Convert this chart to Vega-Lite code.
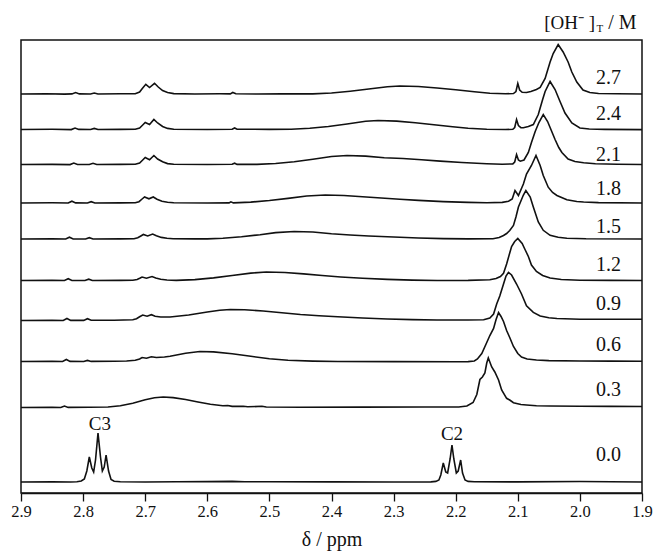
{
  "$schema": "https://vega.github.io/schema/vega-lite/v6.json",
  "width": 621,
  "height": 453,
  "autosize": {"type": "none"},
  "padding": {"left": 21, "top": 40, "right": 13, "bottom": 58},
  "background": "white",
  "config": {
    "view": {"stroke": "#111", "strokeWidth": 1.5},
    "font": "Liberation Serif"
  },
  "datasets": {
    "spectra": [
      {"c":"2.7","ppm":2.900,"v":399},{"c":"2.7","ppm":2.860,"v":399.2},{"c":"2.7","ppm":2.830,"v":398.9},{"c":"2.7","ppm":2.818,"v":399.1},{"c":"2.7","ppm":2.812,"v":400.4},{"c":"2.7","ppm":2.806,"v":399.1},{"c":"2.7","ppm":2.788,"v":399},{"c":"2.7","ppm":2.782,"v":400},{"c":"2.7","ppm":2.776,"v":399},{"c":"2.7","ppm":2.740,"v":399.2},{"c":"2.7","ppm":2.716,"v":399.3},{"c":"2.7","ppm":2.709,"v":401},{"c":"2.7","ppm":2.704,"v":405},{"c":"2.7","ppm":2.699,"v":408.7},{"c":"2.7","ppm":2.693,"v":405.5},{"c":"2.7","ppm":2.685,"v":409.7},{"c":"2.7","ppm":2.679,"v":406},{"c":"2.7","ppm":2.672,"v":402.5},{"c":"2.7","ppm":2.664,"v":400.5},{"c":"2.7","ppm":2.654,"v":399.4},{"c":"2.7","ppm":2.620,"v":399},{"c":"2.7","ppm":2.580,"v":399.2},{"c":"2.7","ppm":2.563,"v":399.1},{"c":"2.7","ppm":2.559,"v":400.5},{"c":"2.7","ppm":2.554,"v":399.2},{"c":"2.7","ppm":2.520,"v":399},{"c":"2.7","ppm":2.480,"v":399.1},{"c":"2.7","ppm":2.430,"v":399.1},{"c":"2.7","ppm":2.400,"v":400},{"c":"2.7","ppm":2.370,"v":401.8},{"c":"2.7","ppm":2.340,"v":404},{"c":"2.7","ppm":2.310,"v":406.2},{"c":"2.7","ppm":2.290,"v":407},{"c":"2.7","ppm":2.260,"v":406.5},{"c":"2.7","ppm":2.230,"v":405},{"c":"2.7","ppm":2.200,"v":403.3},{"c":"2.7","ppm":2.170,"v":401.3},{"c":"2.7","ppm":2.145,"v":399.8},{"c":"2.7","ppm":2.120,"v":399.2},{"c":"2.7","ppm":2.107,"v":399.5},{"c":"2.7","ppm":2.103,"v":401.5},{"c":"2.7","ppm":2.100,"v":409.5},{"c":"2.7","ppm":2.097,"v":403},{"c":"2.7","ppm":2.093,"v":400.7},{"c":"2.7","ppm":2.086,"v":400.5},{"c":"2.7","ppm":2.079,"v":401.5},{"c":"2.7","ppm":2.070,"v":403.5},{"c":"2.7","ppm":2.064,"v":405.5},{"c":"2.7","ppm":2.056,"v":414.5},{"c":"2.7","ppm":2.048,"v":431},{"c":"2.7","ppm":2.043,"v":439.5},{"c":"2.7","ppm":2.035,"v":448.5},{"c":"2.7","ppm":2.027,"v":441},{"c":"2.7","ppm":2.019,"v":431},{"c":"2.7","ppm":2.013,"v":421},{"c":"2.7","ppm":2.005,"v":411},{"c":"2.7","ppm":1.995,"v":403},{"c":"2.7","ppm":1.984,"v":400.5},{"c":"2.7","ppm":1.970,"v":399.5},{"c":"2.7","ppm":1.940,"v":399.2},{"c":"2.7","ppm":1.900,"v":399},

      {"c":"2.4","ppm":2.900,"v":363.5},{"c":"2.4","ppm":2.850,"v":363.7},{"c":"2.4","ppm":2.819,"v":363.4},{"c":"2.4","ppm":2.813,"v":365},{"c":"2.4","ppm":2.807,"v":363.6},{"c":"2.4","ppm":2.788,"v":363.5},{"c":"2.4","ppm":2.782,"v":364.6},{"c":"2.4","ppm":2.776,"v":363.5},{"c":"2.4","ppm":2.740,"v":363.6},{"c":"2.4","ppm":2.716,"v":363.7},{"c":"2.4","ppm":2.709,"v":365},{"c":"2.4","ppm":2.704,"v":368},{"c":"2.4","ppm":2.700,"v":370.5},{"c":"2.4","ppm":2.693,"v":368.5},{"c":"2.4","ppm":2.686,"v":373.5},{"c":"2.4","ppm":2.680,"v":370},{"c":"2.4","ppm":2.672,"v":366.5},{"c":"2.4","ppm":2.664,"v":364.6},{"c":"2.4","ppm":2.654,"v":363.8},{"c":"2.4","ppm":2.600,"v":363.5},{"c":"2.4","ppm":2.560,"v":363.8},{"c":"2.4","ppm":2.556,"v":365},{"c":"2.4","ppm":2.552,"v":363.8},{"c":"2.4","ppm":2.500,"v":363.6},{"c":"2.4","ppm":2.465,"v":363.7},{"c":"2.4","ppm":2.435,"v":364.7},{"c":"2.4","ppm":2.405,"v":366.5},{"c":"2.4","ppm":2.375,"v":369},{"c":"2.4","ppm":2.345,"v":371.7},{"c":"2.4","ppm":2.325,"v":372.5},{"c":"2.4","ppm":2.295,"v":371.9},{"c":"2.4","ppm":2.265,"v":370.3},{"c":"2.4","ppm":2.235,"v":368.3},{"c":"2.4","ppm":2.205,"v":366.2},{"c":"2.4","ppm":2.180,"v":364.7},{"c":"2.4","ppm":2.150,"v":363.8},{"c":"2.4","ppm":2.120,"v":363.5},{"c":"2.4","ppm":2.108,"v":363.7},{"c":"2.4","ppm":2.105,"v":365.5},{"c":"2.4","ppm":2.102,"v":373.5},{"c":"2.4","ppm":2.099,"v":367.5},{"c":"2.4","ppm":2.095,"v":365.3},{"c":"2.4","ppm":2.091,"v":365.2},{"c":"2.4","ppm":2.083,"v":366.5},{"c":"2.4","ppm":2.075,"v":368.5},{"c":"2.4","ppm":2.067,"v":378.5},{"c":"2.4","ppm":2.060,"v":393.5},{"c":"2.4","ppm":2.056,"v":401.5},{"c":"2.4","ppm":2.048,"v":411.5},{"c":"2.4","ppm":2.040,"v":403.5},{"c":"2.4","ppm":2.032,"v":391.5},{"c":"2.4","ppm":2.024,"v":380},{"c":"2.4","ppm":2.013,"v":370},{"c":"2.4","ppm":2.000,"v":365},{"c":"2.4","ppm":1.985,"v":364},{"c":"2.4","ppm":1.960,"v":363.6},{"c":"2.4","ppm":1.900,"v":363.4},

      {"c":"2.1","ppm":2.900,"v":328.5},{"c":"2.1","ppm":2.850,"v":328.6},{"c":"2.1","ppm":2.821,"v":328.4},{"c":"2.1","ppm":2.815,"v":330},{"c":"2.1","ppm":2.809,"v":328.5},{"c":"2.1","ppm":2.790,"v":328.5},{"c":"2.1","ppm":2.784,"v":329.7},{"c":"2.1","ppm":2.778,"v":328.5},{"c":"2.1","ppm":2.740,"v":328.6},{"c":"2.1","ppm":2.716,"v":328.7},{"c":"2.1","ppm":2.709,"v":330},{"c":"2.1","ppm":2.704,"v":333},{"c":"2.1","ppm":2.700,"v":335.5},{"c":"2.1","ppm":2.693,"v":333.2},{"c":"2.1","ppm":2.686,"v":337.5},{"c":"2.1","ppm":2.680,"v":334},{"c":"2.1","ppm":2.672,"v":331.2},{"c":"2.1","ppm":2.664,"v":329.4},{"c":"2.1","ppm":2.654,"v":328.8},{"c":"2.1","ppm":2.600,"v":328.5},{"c":"2.1","ppm":2.560,"v":328.7},{"c":"2.1","ppm":2.556,"v":329.8},{"c":"2.1","ppm":2.552,"v":328.6},{"c":"2.1","ppm":2.520,"v":328.6},{"c":"2.1","ppm":2.490,"v":329.5},{"c":"2.1","ppm":2.460,"v":331.3},{"c":"2.1","ppm":2.430,"v":333.7},{"c":"2.1","ppm":2.400,"v":336.5},{"c":"2.1","ppm":2.375,"v":337.5},{"c":"2.1","ppm":2.345,"v":336.9},{"c":"2.1","ppm":2.315,"v":335.3},{"c":"2.1","ppm":2.285,"v":334.5},{"c":"2.1","ppm":2.255,"v":333.3},{"c":"2.1","ppm":2.225,"v":331.9},{"c":"2.1","ppm":2.190,"v":330.5},{"c":"2.1","ppm":2.150,"v":329.3},{"c":"2.1","ppm":2.125,"v":328.8},{"c":"2.1","ppm":2.108,"v":329.1},{"c":"2.1","ppm":2.105,"v":331},{"c":"2.1","ppm":2.102,"v":338.5},{"c":"2.1","ppm":2.099,"v":333},{"c":"2.1","ppm":2.096,"v":331.8},{"c":"2.1","ppm":2.090,"v":333},{"c":"2.1","ppm":2.083,"v":340.5},{"c":"2.1","ppm":2.078,"v":350.5},{"c":"2.1","ppm":2.072,"v":361.5},{"c":"2.1","ppm":2.066,"v":370.5},{"c":"2.1","ppm":2.059,"v":378.5},{"c":"2.1","ppm":2.052,"v":371.5},{"c":"2.1","ppm":2.046,"v":362.5},{"c":"2.1","ppm":2.040,"v":353.5},{"c":"2.1","ppm":2.034,"v":345.5},{"c":"2.1","ppm":2.029,"v":340.5},{"c":"2.1","ppm":2.019,"v":334},{"c":"2.1","ppm":2.008,"v":331.5},{"c":"2.1","ppm":1.994,"v":330.2},{"c":"2.1","ppm":1.975,"v":329.2},{"c":"2.1","ppm":1.940,"v":328.7},{"c":"2.1","ppm":1.900,"v":328.5},

      {"c":"1.8","ppm":2.900,"v":290},{"c":"1.8","ppm":2.850,"v":290.2},{"c":"1.8","ppm":2.824,"v":290},{"c":"1.8","ppm":2.818,"v":291.8},{"c":"1.8","ppm":2.812,"v":290.1},{"c":"1.8","ppm":2.793,"v":290},{"c":"1.8","ppm":2.787,"v":291.3},{"c":"1.8","ppm":2.781,"v":290},{"c":"1.8","ppm":2.740,"v":290.1},{"c":"1.8","ppm":2.716,"v":290.2},{"c":"1.8","ppm":2.710,"v":291.3},{"c":"1.8","ppm":2.705,"v":294},{"c":"1.8","ppm":2.701,"v":296},{"c":"1.8","ppm":2.694,"v":294.2},{"c":"1.8","ppm":2.687,"v":296},{"c":"1.8","ppm":2.681,"v":293.8},{"c":"1.8","ppm":2.673,"v":291.8},{"c":"1.8","ppm":2.664,"v":290.7},{"c":"1.8","ppm":2.654,"v":290.2},{"c":"1.8","ppm":2.600,"v":290},{"c":"1.8","ppm":2.565,"v":290.1},{"c":"1.8","ppm":2.562,"v":291.2},{"c":"1.8","ppm":2.558,"v":290.1},{"c":"1.8","ppm":2.530,"v":290.9},{"c":"1.8","ppm":2.500,"v":292.5},{"c":"1.8","ppm":2.470,"v":294.6},{"c":"1.8","ppm":2.440,"v":297},{"c":"1.8","ppm":2.410,"v":298},{"c":"1.8","ppm":2.380,"v":297.5},{"c":"1.8","ppm":2.350,"v":296.2},{"c":"1.8","ppm":2.320,"v":295},{"c":"1.8","ppm":2.290,"v":293.8},{"c":"1.8","ppm":2.260,"v":292.6},{"c":"1.8","ppm":2.220,"v":291.4},{"c":"1.8","ppm":2.180,"v":290.6},{"c":"1.8","ppm":2.150,"v":290.3},{"c":"1.8","ppm":2.125,"v":290.6},{"c":"1.8","ppm":2.115,"v":291.8},{"c":"1.8","ppm":2.109,"v":294},{"c":"1.8","ppm":2.1045,"v":302.5},{"c":"1.8","ppm":2.099,"v":297.5},{"c":"1.8","ppm":2.091,"v":309},{"c":"1.8","ppm":2.086,"v":319},{"c":"1.8","ppm":2.078,"v":327.5},{"c":"1.8","ppm":2.0707,"v":337.5},{"c":"1.8","ppm":2.064,"v":327.5},{"c":"1.8","ppm":2.059,"v":317.5},{"c":"1.8","ppm":2.051,"v":305.8},{"c":"1.8","ppm":2.044,"v":300.5},{"c":"1.8","ppm":2.037,"v":297.5},{"c":"1.8","ppm":2.021,"v":293.2},{"c":"1.8","ppm":2.005,"v":291.5},{"c":"1.8","ppm":1.994,"v":291},{"c":"1.8","ppm":1.970,"v":290.4},{"c":"1.8","ppm":1.900,"v":290},

      {"c":"1.5","ppm":2.900,"v":254},{"c":"1.5","ppm":2.850,"v":254.1},{"c":"1.5","ppm":2.828,"v":254},{"c":"1.5","ppm":2.822,"v":255.8},{"c":"1.5","ppm":2.816,"v":254},{"c":"1.5","ppm":2.796,"v":254},{"c":"1.5","ppm":2.790,"v":255.3},{"c":"1.5","ppm":2.784,"v":254},{"c":"1.5","ppm":2.740,"v":254.1},{"c":"1.5","ppm":2.718,"v":254.2},{"c":"1.5","ppm":2.712,"v":255.2},{"c":"1.5","ppm":2.707,"v":257},{"c":"1.5","ppm":2.703,"v":258.5},{"c":"1.5","ppm":2.696,"v":257},{"c":"1.5","ppm":2.688,"v":259},{"c":"1.5","ppm":2.682,"v":257.2},{"c":"1.5","ppm":2.674,"v":255.6},{"c":"1.5","ppm":2.665,"v":254.7},{"c":"1.5","ppm":2.655,"v":254.2},{"c":"1.5","ppm":2.620,"v":254.1},{"c":"1.5","ppm":2.600,"v":254.1},{"c":"1.5","ppm":2.575,"v":254.8},{"c":"1.5","ppm":2.545,"v":256.3},{"c":"1.5","ppm":2.515,"v":258.3},{"c":"1.5","ppm":2.490,"v":260.4},{"c":"1.5","ppm":2.460,"v":261.5},{"c":"1.5","ppm":2.430,"v":261},{"c":"1.5","ppm":2.400,"v":259.2},{"c":"1.5","ppm":2.370,"v":258},{"c":"1.5","ppm":2.340,"v":257},{"c":"1.5","ppm":2.300,"v":256},{"c":"1.5","ppm":2.260,"v":255},{"c":"1.5","ppm":2.220,"v":254.4},{"c":"1.5","ppm":2.180,"v":254.1},{"c":"1.5","ppm":2.140,"v":254.3},{"c":"1.5","ppm":2.130,"v":255.5},{"c":"1.5","ppm":2.123,"v":257.5},{"c":"1.5","ppm":2.118,"v":259.5},{"c":"1.5","ppm":2.113,"v":262.5},{"c":"1.5","ppm":2.107,"v":267.5},{"c":"1.5","ppm":2.103,"v":276},{"c":"1.5","ppm":2.099,"v":286},{"c":"1.5","ppm":2.091,"v":298},{"c":"1.5","ppm":2.087,"v":302.5},{"c":"1.5","ppm":2.080,"v":296},{"c":"1.5","ppm":2.075,"v":286},{"c":"1.5","ppm":2.067,"v":271},{"c":"1.5","ppm":2.059,"v":262.7},{"c":"1.5","ppm":2.048,"v":257.7},{"c":"1.5","ppm":2.035,"v":255.8},{"c":"1.5","ppm":2.021,"v":254.7},{"c":"1.5","ppm":1.990,"v":254.2},{"c":"1.5","ppm":1.900,"v":254},

      {"c":"1.2","ppm":2.900,"v":212.5},{"c":"1.2","ppm":2.850,"v":212.6},{"c":"1.2","ppm":2.830,"v":212.5},{"c":"1.2","ppm":2.824,"v":214.3},{"c":"1.2","ppm":2.818,"v":212.5},{"c":"1.2","ppm":2.797,"v":212.5},{"c":"1.2","ppm":2.791,"v":213.8},{"c":"1.2","ppm":2.785,"v":212.5},{"c":"1.2","ppm":2.740,"v":212.6},{"c":"1.2","ppm":2.720,"v":212.7},{"c":"1.2","ppm":2.713,"v":213.5},{"c":"1.2","ppm":2.708,"v":215},{"c":"1.2","ppm":2.705,"v":216},{"c":"1.2","ppm":2.698,"v":214.8},{"c":"1.2","ppm":2.689,"v":216.5},{"c":"1.2","ppm":2.683,"v":215},{"c":"1.2","ppm":2.675,"v":213.7},{"c":"1.2","ppm":2.665,"v":213},{"c":"1.2","ppm":2.650,"v":212.6},{"c":"1.2","ppm":2.620,"v":213.4},{"c":"1.2","ppm":2.590,"v":215.1},{"c":"1.2","ppm":2.560,"v":217.5},{"c":"1.2","ppm":2.530,"v":219.9},{"c":"1.2","ppm":2.505,"v":221},{"c":"1.2","ppm":2.475,"v":220.5},{"c":"1.2","ppm":2.445,"v":219.1},{"c":"1.2","ppm":2.415,"v":217.5},{"c":"1.2","ppm":2.385,"v":216},{"c":"1.2","ppm":2.350,"v":214.7},{"c":"1.2","ppm":2.310,"v":213.6},{"c":"1.2","ppm":2.270,"v":212.9},{"c":"1.2","ppm":2.230,"v":212.5},{"c":"1.2","ppm":2.180,"v":212.6},{"c":"1.2","ppm":2.145,"v":213.2},{"c":"1.2","ppm":2.135,"v":214.5},{"c":"1.2","ppm":2.128,"v":216.5},{"c":"1.2","ppm":2.123,"v":219.7},{"c":"1.2","ppm":2.118,"v":229},{"c":"1.2","ppm":2.113,"v":240},{"c":"1.2","ppm":2.110,"v":246.5},{"c":"1.2","ppm":2.105,"v":251.5},{"c":"1.2","ppm":2.100,"v":254.5},{"c":"1.2","ppm":2.093,"v":249.5},{"c":"1.2","ppm":2.088,"v":243},{"c":"1.2","ppm":2.083,"v":236.5},{"c":"1.2","ppm":2.078,"v":228},{"c":"1.2","ppm":2.070,"v":221.5},{"c":"1.2","ppm":2.060,"v":217.5},{"c":"1.2","ppm":2.048,"v":215},{"c":"1.2","ppm":2.030,"v":213.5},{"c":"1.2","ppm":2.000,"v":212.8},{"c":"1.2","ppm":1.950,"v":212.6},{"c":"1.2","ppm":1.900,"v":212.5},

      {"c":"0.9","ppm":2.900,"v":172.5},{"c":"0.9","ppm":2.850,"v":172.6},{"c":"0.9","ppm":2.832,"v":172.5},{"c":"0.9","ppm":2.826,"v":174.5},{"c":"0.9","ppm":2.820,"v":172.6},{"c":"0.9","ppm":2.799,"v":172.6},{"c":"0.9","ppm":2.793,"v":174.3},{"c":"0.9","ppm":2.787,"v":172.7},{"c":"0.9","ppm":2.750,"v":172.8},{"c":"0.9","ppm":2.720,"v":173.2},{"c":"0.9","ppm":2.714,"v":174.3},{"c":"0.9","ppm":2.709,"v":176.2},{"c":"0.9","ppm":2.704,"v":178},{"c":"0.9","ppm":2.697,"v":176.8},{"c":"0.9","ppm":2.690,"v":178.3},{"c":"0.9","ppm":2.684,"v":176.8},{"c":"0.9","ppm":2.675,"v":176},{"c":"0.9","ppm":2.660,"v":176},{"c":"0.9","ppm":2.630,"v":178},{"c":"0.9","ppm":2.600,"v":181},{"c":"0.9","ppm":2.580,"v":182.8},{"c":"0.9","ppm":2.563,"v":183.5},{"c":"0.9","ppm":2.540,"v":183.2},{"c":"0.9","ppm":2.510,"v":182},{"c":"0.9","ppm":2.480,"v":180.2},{"c":"0.9","ppm":2.450,"v":178.5},{"c":"0.9","ppm":2.420,"v":177.3},{"c":"0.9","ppm":2.390,"v":176.2},{"c":"0.9","ppm":2.350,"v":175},{"c":"0.9","ppm":2.310,"v":174},{"c":"0.9","ppm":2.270,"v":173.4},{"c":"0.9","ppm":2.230,"v":173},{"c":"0.9","ppm":2.180,"v":173},{"c":"0.9","ppm":2.155,"v":173.3},{"c":"0.9","ppm":2.145,"v":175},{"c":"0.9","ppm":2.139,"v":179},{"c":"0.9","ppm":2.134,"v":189},{"c":"0.9","ppm":2.129,"v":197},{"c":"0.9","ppm":2.123,"v":209},{"c":"0.9","ppm":2.119,"v":217},{"c":"0.9","ppm":2.115,"v":220.6},{"c":"0.9","ppm":2.110,"v":218},{"c":"0.9","ppm":2.102,"v":209},{"c":"0.9","ppm":2.094,"v":199},{"c":"0.9","ppm":2.086,"v":187.3},{"c":"0.9","ppm":2.075,"v":180.6},{"c":"0.9","ppm":2.064,"v":177},{"c":"0.9","ppm":2.050,"v":175.3},{"c":"0.9","ppm":2.037,"v":174.5},{"c":"0.9","ppm":2.000,"v":173.8},{"c":"0.9","ppm":1.950,"v":173.7},{"c":"0.9","ppm":1.900,"v":173.7},

      {"c":"0.6","ppm":2.900,"v":131.5},{"c":"0.6","ppm":2.850,"v":131.6},{"c":"0.6","ppm":2.833,"v":131.5},{"c":"0.6","ppm":2.827,"v":133.5},{"c":"0.6","ppm":2.821,"v":131.6},{"c":"0.6","ppm":2.799,"v":131.5},{"c":"0.6","ppm":2.793,"v":132.6},{"c":"0.6","ppm":2.787,"v":131.6},{"c":"0.6","ppm":2.750,"v":131.7},{"c":"0.6","ppm":2.730,"v":132},{"c":"0.6","ppm":2.716,"v":132.7},{"c":"0.6","ppm":2.709,"v":134},{"c":"0.6","ppm":2.705,"v":135.5},{"c":"0.6","ppm":2.698,"v":134.8},{"c":"0.6","ppm":2.690,"v":136.2},{"c":"0.6","ppm":2.682,"v":135.5},{"c":"0.6","ppm":2.669,"v":136},{"c":"0.6","ppm":2.660,"v":136.8},{"c":"0.6","ppm":2.635,"v":139.8},{"c":"0.6","ppm":2.612,"v":141.5},{"c":"0.6","ppm":2.590,"v":141.1},{"c":"0.6","ppm":2.560,"v":139.3},{"c":"0.6","ppm":2.530,"v":136.7},{"c":"0.6","ppm":2.500,"v":134.3},{"c":"0.6","ppm":2.470,"v":132.8},{"c":"0.6","ppm":2.430,"v":131.9},{"c":"0.6","ppm":2.390,"v":131.5},{"c":"0.6","ppm":2.300,"v":131.4},{"c":"0.6","ppm":2.200,"v":131.2},{"c":"0.6","ppm":2.180,"v":131.4},{"c":"0.6","ppm":2.170,"v":132},{"c":"0.6","ppm":2.165,"v":134},{"c":"0.6","ppm":2.158,"v":139.5},{"c":"0.6","ppm":2.150,"v":150.5},{"c":"0.6","ppm":2.145,"v":157.5},{"c":"0.6","ppm":2.139,"v":164.5},{"c":"0.6","ppm":2.135,"v":173.5},{"c":"0.6","ppm":2.131,"v":180.5},{"c":"0.6","ppm":2.127,"v":176.5},{"c":"0.6","ppm":2.123,"v":171.5},{"c":"0.6","ppm":2.118,"v":162.5},{"c":"0.6","ppm":2.113,"v":155.5},{"c":"0.6","ppm":2.107,"v":146.5},{"c":"0.6","ppm":2.100,"v":139.5},{"c":"0.6","ppm":2.094,"v":136},{"c":"0.6","ppm":2.085,"v":134},{"c":"0.6","ppm":2.070,"v":133},{"c":"0.6","ppm":2.050,"v":132.4},{"c":"0.6","ppm":2.000,"v":132},{"c":"0.6","ppm":1.950,"v":131.9},{"c":"0.6","ppm":1.900,"v":131.8},

      {"c":"0.3","ppm":2.900,"v":85.5},{"c":"0.3","ppm":2.850,"v":85.6},{"c":"0.3","ppm":2.836,"v":85.5},{"c":"0.3","ppm":2.830,"v":87},{"c":"0.3","ppm":2.824,"v":85.6},{"c":"0.3","ppm":2.790,"v":85.7},{"c":"0.3","ppm":2.760,"v":86},{"c":"0.3","ppm":2.740,"v":87.2},{"c":"0.3","ppm":2.720,"v":89.8},{"c":"0.3","ppm":2.700,"v":93.2},{"c":"0.3","ppm":2.685,"v":95.3},{"c":"0.3","ppm":2.671,"v":96},{"c":"0.3","ppm":2.655,"v":95.4},{"c":"0.3","ppm":2.635,"v":93.5},{"c":"0.3","ppm":2.615,"v":91},{"c":"0.3","ppm":2.595,"v":88.7},{"c":"0.3","ppm":2.575,"v":87.2},{"c":"0.3","ppm":2.567,"v":87.5},{"c":"0.3","ppm":2.560,"v":86.6},{"c":"0.3","ppm":2.542,"v":86.8},{"c":"0.3","ppm":2.535,"v":86.2},{"c":"0.3","ppm":2.512,"v":86.7},{"c":"0.3","ppm":2.505,"v":86},{"c":"0.3","ppm":2.450,"v":85.8},{"c":"0.3","ppm":2.350,"v":85.9},{"c":"0.3","ppm":2.250,"v":86},{"c":"0.3","ppm":2.195,"v":86},{"c":"0.3","ppm":2.182,"v":87},{"c":"0.3","ppm":2.172,"v":90.5},{"c":"0.3","ppm":2.166,"v":98.5},{"c":"0.3","ppm":2.161,"v":113.5},{"c":"0.3","ppm":2.157,"v":116},{"c":"0.3","ppm":2.153,"v":120},{"c":"0.3","ppm":2.150,"v":130},{"c":"0.3","ppm":2.1475,"v":135},{"c":"0.3","ppm":2.142,"v":126},{"c":"0.3","ppm":2.137,"v":121},{"c":"0.3","ppm":2.131,"v":113},{"c":"0.3","ppm":2.126,"v":103},{"c":"0.3","ppm":2.118,"v":94.7},{"c":"0.3","ppm":2.113,"v":93},{"c":"0.3","ppm":2.107,"v":90.3},{"c":"0.3","ppm":2.095,"v":88.5},{"c":"0.3","ppm":2.086,"v":88},{"c":"0.3","ppm":2.070,"v":87.3},{"c":"0.3","ppm":2.049,"v":87},{"c":"0.3","ppm":2.000,"v":86.7},{"c":"0.3","ppm":1.950,"v":86.6},{"c":"0.3","ppm":1.900,"v":86.5},

      {"c":"0.0","ppm":2.900,"v":11},{"c":"0.0","ppm":2.850,"v":11.1},{"c":"0.0","ppm":2.820,"v":11},{"c":"0.0","ppm":2.810,"v":11.3},{"c":"0.0","ppm":2.803,"v":12},{"c":"0.0","ppm":2.798,"v":14},{"c":"0.0","ppm":2.794,"v":22},{"c":"0.0","ppm":2.790,"v":36},{"c":"0.0","ppm":2.786,"v":25},{"c":"0.0","ppm":2.783,"v":21},{"c":"0.0","ppm":2.780,"v":33},{"c":"0.0","ppm":2.776,"v":60},{"c":"0.0","ppm":2.772,"v":36},{"c":"0.0","ppm":2.769,"v":22},{"c":"0.0","ppm":2.766,"v":26},{"c":"0.0","ppm":2.763,"v":38},{"c":"0.0","ppm":2.759,"v":22},{"c":"0.0","ppm":2.755,"v":13.5},{"c":"0.0","ppm":2.750,"v":11.8},{"c":"0.0","ppm":2.740,"v":11.2},{"c":"0.0","ppm":2.700,"v":11},{"c":"0.0","ppm":2.650,"v":11.2},{"c":"0.0","ppm":2.600,"v":11.4},{"c":"0.0","ppm":2.560,"v":11.6},{"c":"0.0","ppm":2.540,"v":11.3},{"c":"0.0","ppm":2.500,"v":11.2},{"c":"0.0","ppm":2.400,"v":11.1},{"c":"0.0","ppm":2.300,"v":11},{"c":"0.0","ppm":2.240,"v":11.1},{"c":"0.0","ppm":2.232,"v":11.6},{"c":"0.0","ppm":2.227,"v":13},{"c":"0.0","ppm":2.224,"v":18},{"c":"0.0","ppm":2.220,"v":30},{"c":"0.0","ppm":2.216,"v":21},{"c":"0.0","ppm":2.213,"v":20},{"c":"0.0","ppm":2.209,"v":34},{"c":"0.0","ppm":2.206,"v":48},{"c":"0.0","ppm":2.203,"v":34},{"c":"0.0","ppm":2.199,"v":20},{"c":"0.0","ppm":2.196,"v":22},{"c":"0.0","ppm":2.192,"v":33},{"c":"0.0","ppm":2.189,"v":20},{"c":"0.0","ppm":2.185,"v":13},{"c":"0.0","ppm":2.180,"v":11.6},{"c":"0.0","ppm":2.170,"v":11.2},{"c":"0.0","ppm":2.100,"v":11.1},{"c":"0.0","ppm":2.000,"v":11.5},{"c":"0.0","ppm":1.950,"v":11.2},{"c":"0.0","ppm":1.900,"v":11}
    ],
    "labels": [
      {"t":"2.7","ppm":1.954,"v":415},{"t":"2.4","ppm":1.954,"v":379},{"t":"2.1","ppm":1.954,"v":338},{"t":"1.8","ppm":1.954,"v":304.5},{"t":"1.5","ppm":1.954,"v":266.5},{"t":"1.2","ppm":1.954,"v":228},{"t":"0.9","ppm":1.954,"v":189.5},{"t":"0.6","ppm":1.954,"v":148},{"t":"0.3","ppm":1.954,"v":103},{"t":"0.0","ppm":1.954,"v":38}
    ],
    "peaks": [
      {"t":"C3","ppm":2.773,"v":69},{"t":"C2","ppm":2.206,"v":59.5}
    ],
    "head": [
      {"t":"[OH⁻ ]","sub":"T","unit":"/ M"}
    ]
  },
  "layer": [
    {
      "data": {"name": "spectra"},
      "mark": {"type": "line", "stroke": "#111", "strokeWidth": 1.6, "interpolate": "linear"},
      "encoding": {
        "x": {
          "field": "ppm", "type": "quantitative",
          "scale": {"domain": [1.9, 2.9], "reverse": true, "nice": false, "zero": false},
          "axis": {
            "title": "δ / ppm",
            "values": [2.9, 2.85, 2.8, 2.75, 2.7, 2.65, 2.6, 2.55, 2.5, 2.45, 2.4, 2.35, 2.3, 2.25, 2.2, 2.15, 2.1, 2.05, 2.0, 1.95, 1.9],
            "labelExpr": "abs(datum.value*10 - round(datum.value*10)) < 0.01 ? format(datum.value, '.1f') : ''",
            "tickSize": {"condition": {"test": "abs(datum.value*10 - round(datum.value*10)) < 0.01", "value": 8}, "value": 5},
            "tickColor": "#111", "tickWidth": 1.3,
            "domainColor": "#111", "domainWidth": 1.5,
            "grid": false,
            "labelFont": "Liberation Serif", "labelFontSize": 16.5, "labelColor": "#111",
            "labelPadding": 2, "labelFlush": false, "labelOverlap": false,
            "titleFont": "Liberation Serif", "titleFontSize": 20, "titleFontWeight": "normal", "titleColor": "#111",
            "titlePadding": 10
          }
        },
        "y": {"field": "v", "type": "quantitative", "scale": {"domain": [0, 453], "nice": false, "zero": false}, "axis": null},
        "detail": {"field": "c"}
      }
    },
    {
      "data": {"name": "labels"},
      "mark": {"type": "text", "font": "Liberation Serif", "fontSize": 20, "color": "#111", "align": "center", "baseline": "middle"},
      "encoding": {
        "x": {"field": "ppm", "type": "quantitative"},
        "y": {"field": "v", "type": "quantitative"},
        "text": {"field": "t"}
      }
    },
    {
      "data": {"name": "peaks"},
      "mark": {"type": "text", "font": "Liberation Serif", "fontSize": 19, "color": "#111", "align": "center", "baseline": "middle"},
      "encoding": {
        "x": {"field": "ppm", "type": "quantitative"},
        "y": {"field": "v", "type": "quantitative"},
        "text": {"field": "t"}
      }
    },
    {
      "data": {"name": "head"},
      "mark": {"type": "text", "font": "Liberation Serif", "fontSize": 19, "color": "#111", "align": "right", "baseline": "alphabetic"},
      "encoding": {
        "x": {"datum": 1.9757},
        "y": {"datum": 464},
        "text": {"field": "t"}
      }
    },
    {
      "data": {"name": "head"},
      "mark": {"type": "text", "font": "Liberation Serif", "fontSize": 11, "color": "#111", "align": "left", "baseline": "alphabetic"},
      "encoding": {
        "x": {"datum": 1.9733},
        "y": {"datum": 461},
        "text": {"field": "sub"}
      }
    },
    {
      "data": {"name": "head"},
      "mark": {"type": "text", "font": "Liberation Serif", "fontSize": 20, "color": "#111", "align": "left", "baseline": "alphabetic"},
      "encoding": {
        "x": {"datum": 1.9545},
        "y": {"datum": 464},
        "text": {"field": "unit"}
      }
    }
  ]
}
